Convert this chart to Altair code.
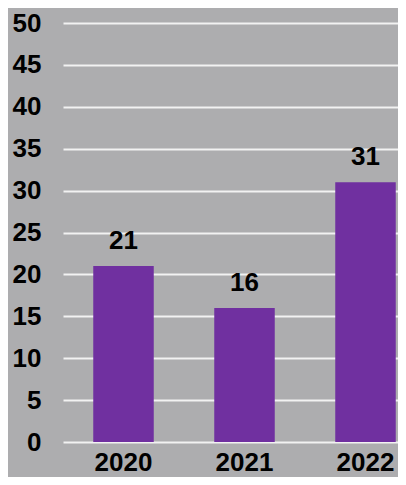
import altair as alt
import pandas as pd

years = ["2020", "2021", "2022"]
values = [21, 16, 31]

df = pd.DataFrame({"year": years, "value": values})

FONT = "Liberation Sans"
FS = 26

base = alt.Chart(df).encode(
    x=alt.X(
        "year:N",
        sort=years,
        scale=alt.Scale(range=[0, 363], paddingInner=0.5, paddingOuter=0.25),
        axis=alt.Axis(
            title=None, labelAngle=0, ticks=False, domain=False,
            labelFont=FONT, labelFontSize=FS, labelFontWeight="bold",
            labelColor="#000000", labelPadding=7, grid=False,
        ),
    ),
    y=alt.Y(
        "value:Q",
        scale=alt.Scale(domain=[0, 50], nice=False),
        axis=alt.Axis(
            title=None, values=list(range(0, 55, 5)), ticks=False, domain=False,
            labelFont=FONT, labelFontSize=FS, labelFontWeight="bold",
            labelColor="#000000", labelPadding=22,
            gridColor="#F2F2F2", gridWidth=2, gridOpacity=1,
        ),
    ),
)

bars = base.mark_bar(color="#7030A0")
labels = base.mark_text(
    dy=-17, baseline="alphabetic", font=FONT, fontSize=FS, fontWeight="bold",
    color="#000000",
).encode(text="value:Q")

chart = (
    (bars + labels)
    .properties(
        width=335, height=419,
        autosize=alt.AutoSizeParams(type="none"),
        padding={"left": 55, "top": 15, "right": 0, "bottom": 35},
        background="#ADADAF",
    )
    .configure_view(stroke=None)
)

chart.save("out.html", embed_options={"renderer": "svg", "actions": False})
